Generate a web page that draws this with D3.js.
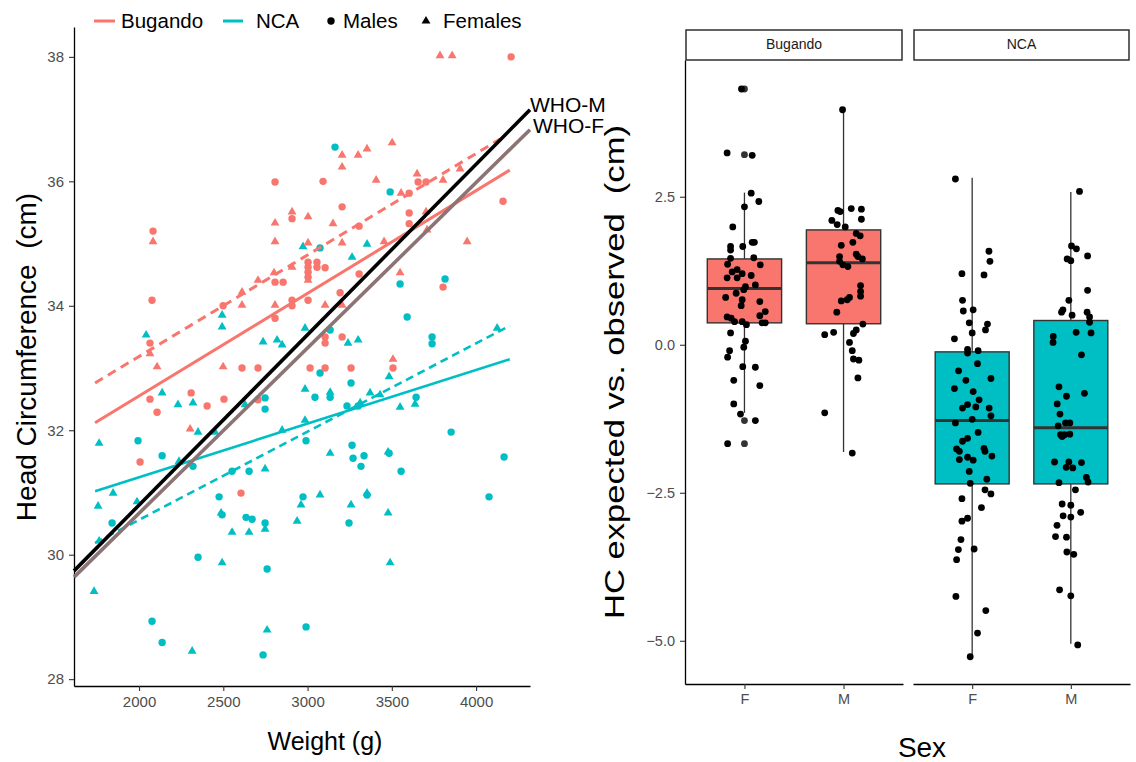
<!DOCTYPE html>
<html>
<head>
<meta charset="utf-8">
<script src="https://cdn.jsdelivr.net/npm/d3@7"></script>
<style>
body { margin: 0; background: #fff; }
svg text { font-family: "Liberation Sans", Arial, sans-serif; }
</style>
</head>
<body>
<svg id="chart" width="1136" height="762"></svg>
<script>
// ---- data: left panel (weight g, head circumference cm) ----
var bugandoMales = [[4208,38.0],[3092,36.0],[2807,35.99],[3205,35.59],[2908,35.40],[2083,35.2],[3656,35.99],[3703,35.99],
  [3603,35.81],[3603,35.49],[3603,35.32],[4160,35.68],[3306,35.28],[3003,34.70],[3003,34.62],[3003,34.54],[3003,34.46],
  [3056,34.70],[3056,34.62],[3104,34.61],[2807,34.38],[2855,34.38],[3306,34.51],[3804,34.30],[3193,34.21],[2908,34.09],
  [2908,34.0],[3003,34.09],[2077,34.09],[2499,34.0],[2807,33.80],[3104,33.50],[3104,33.40],[3205,33.50],[2065,33.40],
  [3507,33.0],[2611,33.0],[2706,33.0],[3015,33.0],[3104,33.0],[3258,33.0],[2309,32.60],[2065,32.50],[2504,32.50],
  [2404,32.39],[2107,32.29],[2006,31.49],[2605,30.99],[2706,32.49]];
var bugandoFemales = [[3786,38.02],[3858,38.02],[3205,36.42],[3300,36.42],[3353,36.52],[3502,36.62],[3205,36.23],[3407,36.02],
  [3650,36.12],[3804,36.02],[3905,36.20],[2908,35.51],[2807,35.33],[3003,35.43],[3151,35.32],[2083,35.03],[2807,35.03],
  [3003,35.01],[3205,35.01],[3454,35.03],[3947,35.03],[3555,35.81],[3709,35.22],[3703,35.51],[3003,34.41],[2908,34.62],
  [2706,34.41],[2611,34.22],[2801,34.53],[3549,34.53],[3104,34.01],[3205,34.01],[2807,34.01],[2611,34.01],[2065,33.23],
  [2107,33.02],[2499,33.02],[3507,33.14],[2303,32.02]];
var ncaMales = [[3163,36.55],[3490,35.83],[3074,34.93],[3549,34.35],[3816,34.43],[3591,33.82],[3134,33.61],[3739,33.50],
  [3739,33.39],[3074,32.92],[3258,32.76],[3044,32.53],[3134,32.53],[3644,32.53],[2748,32.52],[2748,32.34],[3234,32.39],
  [3300,32.39],[1994,31.83],[2137,31.59],[2320,31.42],[2552,31.34],[2653,31.34],[2991,31.83],[3264,31.76],[3270,31.55],
  [3317,31.42],[3335,31.59],[3555,31.34],[3484,31.63],[3852,31.97],[4166,31.57],[1840,30.51],[2475,30.93],[2493,30.64],
  [2635,30.60],[2671,30.57],[2748,30.51],[2973,30.93],[3246,30.51],[3353,30.96],[4077,30.93],[2350,29.96],[2760,29.77],
  [2077,28.93],[2137,28.59],[2736,28.39],[2991,28.84]];
var ncaFemales = [[2973,34.95],[3353,34.99],[3264,34.78],[2493,33.85],[2493,33.66],[2042,33.53],[2736,33.42],[2819,33.45],
  [2849,33.37],[2985,33.64],[3240,33.40],[3300,33.45],[3484,32.86],[2985,32.66],[3134,32.61],[3371,32.60],[3430,32.57],
  [2137,32.60],[2231,32.41],[2320,32.44],[2629,32.41],[3312,32.44],[3638,32.42],[3549,32.37],[2350,31.97],[2451,31.97],
  [1763,31.79],[2985,32.16],[2849,32.0],[3134,31.63],[3478,31.65],[4125,33.64],[1846,30.99],[1757,30.78],[1988,30.85],
  [1763,30.22],[2487,30.67],[2748,30.41],[2653,30.36],[2552,30.36],[2961,30.80],[2938,30.54],[3074,30.96],[3258,30.80],
  [3353,30.99],[3478,30.67],[2493,29.87],[1733,29.41],[2760,28.79],[2315,28.45],[3490,29.87],[2237,31.50],[2748,31.38]];

// fitted lines, end points
var fitBugandoM = [[1739,32.12],[4200,36.18]];
var fitBugandoF = [[1739,32.76],[4143,36.68]];
var fitNcaM = [[1739,31.02],[4200,33.14]];
var fitNcaF = [[1739,30.19],[4200,33.68]];
var whoM = [[1614,29.74],[4320,37.15]];
var whoF = [[1614,29.64],[4320,36.83]];

var weightTicks = [2000, 2500, 3000, 3500, 4000];
var hcTicks = [28, 30, 32, 34, 36, 38];

// ---- data: right panel (HC expected vs observed) ----
var sites = ["Bugando", "NCA"];
var sexes = ["F", "M"];
// [site, sex, lower whisker, q1, median, q3, upper whisker]
var boxStats = [["Bugando","F",-1.15,0.37,0.95,1.45,2.57],["Bugando","M",-1.81,0.355,1.385,1.94,3.97],
  ["NCA","F",-5.27,-2.35,-1.28,-0.12,2.82],["NCA","M",-5.05,-2.35,-1.40,0.41,2.58]];
var outliers = [["Bugando","F",4.32],["Bugando","F",3.21],["Bugando","F",-1.28],["Bugando","F",-1.67]];
// jittered points: [x offset in category units, value]
var jitBugandoF = [[-0.03,4.32],[-0.175,3.24],[0.078,3.20],[0.068,2.56],[0.145,2.42],[0.0,2.33],[-0.118,1.99],[-0.14,1.66],
  [-0.14,1.60],[-0.017,1.66],[0.078,1.73],[0.1,1.73],[-0.14,1.46],[0.094,1.47],[-0.17,1.36],[0.16,1.35],[-0.074,1.27],
  [-0.124,1.23],[-0.023,1.20],[0.068,1.17],[-0.175,1.13],[-0.074,1.13],[0.11,1.01],[0.01,0.98],[-0.007,0.93],[-0.19,0.80],
  [-0.084,0.87],[-0.023,0.76],[-0.033,0.66],[0.155,0.73],[0.21,0.56],[0.155,0.49],[-0.175,0.47],[-0.134,0.45],[-0.1,0.39],
  [-0.023,0.39],[0.02,0.34],[0.178,0.37],[0.21,0.37],[-0.14,0.20],[0.01,0.06],[-0.007,-0.04],[-0.15,-0.10],[-0.17,-0.21],
  [-0.017,-0.37],[0.11,-0.38],[-0.108,-0.60],[0.155,-0.69],[-0.108,-1.00],[-0.04,-1.17],[0.11,-1.28],[-0.17,-1.67]];
var jitBugandoM = [[-0.01,3.97],[-0.057,2.27],[-0.034,2.25],[0.078,2.30],[0.18,2.29],[-0.118,2.10],[-0.064,2.03],[0.017,1.99],
  [0.18,2.12],[0.128,1.88],[0.168,1.84],[0.094,1.73],[-0.023,1.68],[-0.04,1.49],[0.128,1.53],[0.145,1.49],[0.19,1.45],
  [-0.04,1.41],[-0.007,1.35],[0.044,1.32],[0.172,1.00],[0.172,0.90],[0.172,0.82],[0.06,0.80],[0.037,0.76],[-0.023,0.74],
  [-0.068,0.55],[0.195,0.35],[0.128,0.25],[0.1,0.19],[-0.1,0.21],[-0.19,0.17],[0.06,0.04],[0.088,-0.10],[0.1,-0.24],
  [0.155,-0.26],[0.145,-0.56],[-0.19,-1.15],[0.088,-1.83]];
var jitNcaF = [[-0.17,2.80],[0.17,1.58],[0.18,1.41],[-0.104,1.20],[0.12,1.18],[-0.098,0.75],[-0.09,0.57],[0.01,0.59],
  [-0.03,0.37],[0.155,0.35],[0.135,0.25],[0.0,0.20],[-0.18,0.10],[-0.047,-0.08],[-0.047,-0.14],[0.06,-0.10],[0.054,-0.32],
  [-0.138,-0.44],[0.19,-0.57],[-0.064,-0.60],[-0.18,-0.74],[0.01,-0.79],[0.07,-0.93],[0.037,-1.05],[-0.098,-1.07],
  [-0.047,-1.01],[0.172,-1.07],[0.19,-1.20],[0.0,-1.26],[-0.17,-1.32],[0.06,-1.48],[-0.047,-1.58],[-0.098,-1.63],
  [-0.158,-1.76],[-0.13,-1.80],[0.12,-1.75],[0.13,-1.80],[0.2,-1.88],[-0.047,-1.90],[0.01,-1.95],[-0.13,-1.94],
  [-0.03,-2.14],[0.148,-2.27],[-0.02,-2.34],[0.13,-2.45],[0.19,-2.52],[-0.104,-2.60],[0.094,-2.75],[-0.104,-2.98],
  [-0.047,-2.93],[-0.114,-3.29],[-0.14,-3.46],[-0.158,-3.63],[0.02,-3.45],[-0.165,-4.25],[0.138,-4.49],[0.054,-4.87],
  [-0.02,-5.27]];
var jitNcaM = [[0.088,2.59],[0.007,1.67],[0.057,1.62],[-0.037,1.45],[0.0,1.42],[0.17,1.50],[0.17,0.92],[-0.02,0.75],
  [-0.08,0.59],[-0.094,0.55],[0.013,0.50],[0.165,0.55],[0.19,0.47],[0.19,0.38],[-0.178,0.14],[-0.18,0.04],[0.054,0.21],
  [0.205,0.20],[0.108,-0.17],[-0.12,-0.71],[-0.044,-0.87],[0.138,-0.82],[-0.138,-1.00],[-0.11,-1.17],[-0.128,-1.37],
  [-0.054,-1.32],[-0.01,-1.32],[-0.104,-1.52],[-0.064,-1.52],[-0.01,-1.51],[-0.088,-1.55],[-0.165,-1.98],[-0.02,-1.98],
  [0.108,-1.99],[-0.047,-2.07],[0.02,-2.08],[0.158,-2.24],[0.175,-2.32],[-0.12,-2.33],[0.047,-2.45],[-0.088,-2.69],
  [0.0,-2.71],[0.1,-2.83],[-0.078,-2.89],[0.0,-2.91],[-0.14,-3.05],[-0.155,-3.24],[-0.044,-3.25],[-0.04,-3.50],
  [0.03,-3.54],[-0.114,-4.14],[0.0,-4.24],[0.07,-5.07]];
var diffTicks = [-5.0, -2.5, 0.0, 2.5];

var red = "#F8766D", teal = "#00BFC4";
var svg = d3.select("#chart");
svg.append("rect").attr("width", 1136).attr("height", 762).attr("fill", "#fff");

function styleAxis(g, fs) {
    g.attr("font-family", null).attr("font-size", null);
    g.select(".domain").attr("stroke", "#000").attr("stroke-width", 1.3);
    g.selectAll(".tick line").attr("stroke", "#333").attr("stroke-width", 1.1);
    g.selectAll(".tick text").attr("fill", "#4d4d4d").style("font-size", fs + "px");
}

// ================= left panel =================
var x = d3.scaleLinear().domain([1614, 4320]).range([74, 530]);
var y = d3.scaleLinear().domain([27.89, 38.48]).range([686, 27]);
var left = svg.append("g");

left.append("g").attr("transform", "translate(0,686)")
    .call(d3.axisBottom(x).tickValues(weightTicks).tickSize(5).tickSizeOuter(0).tickPadding(5).tickFormat(d3.format("d")))
    .call(styleAxis, 15);
left.append("g").attr("transform", "translate(74,0)")
    .call(d3.axisLeft(y).tickValues(hcTicks).tickSize(5).tickSizeOuter(0).tickPadding(5))
    .call(styleAxis, 15);

var tri = d3.symbol().type(d3.symbolTriangle).size(34);
function drawCircles(data, col) {
    left.append("g").selectAll("circle").data(data).join("circle")
        .attr("cx", d => x(d[0])).attr("cy", d => y(d[1])).attr("r", 3.7).attr("fill", col);
}
function drawTriangles(data, col) {
    left.append("g").selectAll("path").data(data).join("path")
        .attr("d", tri).attr("transform", d => "translate(" + x(d[0]) + "," + y(d[1]) + ")").attr("fill", col);
}
drawCircles(ncaMales, teal);
drawTriangles(ncaFemales, teal);
drawCircles(bugandoMales, red);
drawTriangles(bugandoFemales, red);

var line = d3.line().x(d => x(d[0])).y(d => y(d[1]));
function drawLine(data, col, w, dash) {
    left.append("path").datum(data).attr("d", line).attr("fill", "none")
        .attr("stroke", col).attr("stroke-width", w).attr("stroke-dasharray", dash);
}
drawLine(fitNcaM, teal, 2.6, null);
drawLine(fitNcaF, teal, 2.6, "8,5");
drawLine(fitBugandoM, red, 3, null);
drawLine(fitBugandoF, red, 3, "9,6");
drawLine(whoF, "#8c7474", 3.6, null);
drawLine(whoM, "#000", 3.6, null);

left.append("text").attr("x", x(whoM[1][0])).attr("y", y(whoM[1][1]) - 3).attr("dominant-baseline", "middle")
    .style("font-size", "21px").text("WHO-M");
left.append("text").attr("x", x(whoF[1][0]) + 3).attr("y", y(whoF[1][1]) - 2).attr("dominant-baseline", "middle")
    .style("font-size", "21px").text("WHO-F");

left.append("text").attr("x", 325).attr("y", 750).attr("text-anchor", "middle")
    .style("font-size", "25px").text("Weight (g)");
left.append("text").attr("transform", "translate(36,357) rotate(-90)").attr("text-anchor", "middle")
    .style("font-size", "28px").text("Head Circumference\u00a0\u00a0(cm)");

// legend
var lg = left.append("g").attr("transform", "translate(0,21)");
lg.append("line").attr("x1", 94).attr("x2", 115).attr("stroke", red).attr("stroke-width", 3);
lg.append("text").attr("x", 121).attr("y", 7).style("font-size", "20.5px").text("Bugando");
lg.append("line").attr("x1", 223).attr("x2", 243).attr("stroke", teal).attr("stroke-width", 3);
lg.append("text").attr("x", 256).attr("y", 7).style("font-size", "20.5px").text("NCA");
lg.append("circle").attr("cx", 331).attr("cy", 0).attr("r", 3.7).attr("fill", "#000");
lg.append("text").attr("x", 343).attr("y", 7).style("font-size", "20.5px").text("Males");
lg.append("path").attr("d", tri).attr("transform", "translate(426,0)").attr("fill", "#000");
lg.append("text").attr("x", 443).attr("y", 7).style("font-size", "20.5px").text("Females");

// ================= right panel =================
var yb = d3.scaleLinear().domain([-5.73, 4.81]).range([684, 60]);
var facetX = [[685, 903], [913, 1130]];
var jitter = {"Bugando F": jitBugandoF, "Bugando M": jitBugandoM, "NCA F": jitNcaF, "NCA M": jitNcaM};
var right = svg.append("g");

sites.forEach(function(site, i) {
    var xs = d3.scaleLinear().domain([0.4, 2.6]).range(facetX[i]);
    var pos = function(sex) { return sexes.indexOf(sex) + 1; };
    var g = right.append("g");

    // strip
    g.append("rect").attr("x", facetX[i][0] + 1).attr("y", 30).attr("width", facetX[i][1] - facetX[i][0] - 2)
        .attr("height", 30).attr("fill", "#fff").attr("stroke", "#222").attr("stroke-width", 1.4);
    g.append("text").attr("x", (facetX[i][0] + facetX[i][1]) / 2).attr("y", 45).attr("dominant-baseline", "middle")
        .attr("text-anchor", "middle").attr("fill", "#1a1a1a").style("font-size", "14px").text(site);

    g.append("g").attr("transform", "translate(0,684)")
        .call(d3.axisBottom(xs).tickValues([1, 2]).tickFormat(d => sexes[d - 1]).tickSize(5).tickSizeOuter(0).tickPadding(5))
        .call(styleAxis, 14.5);
    if (i === 0) {
        g.append("g").attr("transform", "translate(685,0)")
            .call(d3.axisLeft(yb).tickValues(diffTicks).tickSize(5).tickSizeOuter(0).tickPadding(5)
                .tickFormat(d => d3.format(".1f")(d).replace("-", "\u2212")))
            .call(styleAxis, 14.5);
    }

    var stats = boxStats.filter(b => b[0] === site);
    stats.forEach(function(b) {
        var c = pos(b[1]);
        var col = site === "Bugando" ? red : teal;
        g.append("line").attr("x1", xs(c)).attr("x2", xs(c)).attr("y1", yb(b[6])).attr("y2", yb(b[2]))
            .attr("stroke", "#333").attr("stroke-width", 1.3);
        g.append("rect").attr("x", xs(c - 0.375)).attr("width", xs(c + 0.375) - xs(c - 0.375))
            .attr("y", yb(b[5])).attr("height", yb(b[3]) - yb(b[5]))
            .attr("fill", col).attr("stroke", "#333").attr("stroke-width", 1.4);
        g.append("line").attr("x1", xs(c - 0.375)).attr("x2", xs(c + 0.375)).attr("y1", yb(b[4])).attr("y2", yb(b[4]))
            .attr("stroke", "#333").attr("stroke-width", 3);
    });

    g.selectAll(".out").data(outliers.filter(o => o[0] === site)).join("circle")
        .attr("cx", d => xs(pos(d[1]))).attr("cy", d => yb(d[2])).attr("r", 3.4).attr("fill", "#333");

    sexes.forEach(function(sex) {
        g.append("g").selectAll("circle").data(jitter[site + " " + sex]).join("circle")
            .attr("cx", d => xs(pos(sex) + d[0])).attr("cy", d => yb(d[1])).attr("r", 3.4).attr("fill", "#000");
    });
});

right.append("text").attr("x", 922).attr("y", 757).attr("text-anchor", "middle")
    .style("font-size", "28px").text("Sex");
right.append("text").attr("transform", "translate(624,372) rotate(-90)").attr("text-anchor", "middle")
    .attr("textLength", 494).attr("lengthAdjust", "spacingAndGlyphs")
    .style("font-size", "28px").text("HC expected vs. observed\u00a0\u00a0(cm)");
</script>
</body>
</html>
